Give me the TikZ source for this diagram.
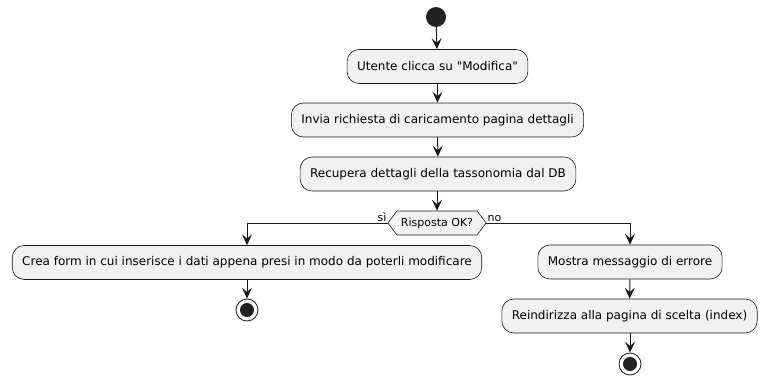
\documentclass[tikz,border=0pt]{standalone}
\usepackage{fontspec}
\setmainfont{DejaVu Sans}[Ligatures=TeXOff]
\usetikzlibrary{arrows.meta,shapes.symbols}
\definecolor{ink}{HTML}{181818}
\definecolor{boxfill}{HTML}{F1F1F1}
\definecolor{dot}{HTML}{222222}
\begin{document}
\begin{tikzpicture}[x=1pt,y=-1pt,
  action/.style={draw=ink, fill=boxfill, line width=0.6pt, rounded corners=12pt,
    minimum height=34pt, inner xsep=10pt, font=\fontsize{12}{14}\selectfont},
  choice/.style={draw=ink, fill=boxfill, line width=0.6pt, shape=signal,
    signal to=east and west, signal pointer angle=106, minimum height=24pt,
    inner xsep=4pt, inner ysep=0pt, font=\fontsize{11}{13}\selectfont},
  startdot/.style={circle, fill=dot, minimum size=20pt, inner sep=0pt},
  enddot/.style={circle, draw=ink, fill=white, line width=0.8pt, minimum size=22pt, inner sep=0pt,
    path picture={\fill[dot] (path picture bounding box.center) circle (7pt);}},
  flow/.style={draw=ink, line width=1pt, -{Stealth[length=11pt,width=10pt,inset=4.5pt]}},
  branch/.style={font=\fontsize{11}{13}\selectfont, inner sep=1pt}
]
\useasboundingbox (0,0) rectangle (767,385);

\node[startdot] (start) at (436,17) {};
\node[action] (b1) at (437.5,66.5) {Utente clicca su "Modifica"};
\node[action] (b2) at (437.5,120) {Invia richiesta di caricamento pagina dettagli};
\node[action] (b3) at (438,174) {Recupera dettagli della tassonomia dal DB};
\node[choice] (dec) at (437,223) {Risposta OK?};
\node[action] (b4) at (247,262.5) {Crea form in cui inserisce i dati appena presi in modo da poterli modificare};
\node[enddot] (endl) at (247,310) {};
\node[action] (b5) at (630,262) {Mostra messaggio di errore};
\node[action] (b6) at (629.5,316) {Reindirizza alla pagina di scelta (index)};
\node[enddot] (endr) at (630,364) {};

\draw[flow] (start) -- (b1);
\draw[flow] (b1) -- (b2);
\draw[flow] (b2) -- (b3);
\draw[flow] (b3.south -| dec.north) -- (dec.north);
\draw[flow] (dec.west) -| (b4.north);
\draw[flow] (dec.east) -| (b5.north);
\draw[flow] (b4.south) -- (endl);
\draw[flow] (b5) -- (b6);
\draw[flow] (b6.south -| endr.north) -- (endr);

\node[branch, anchor=south east] (yes) at (dec.west) {sì};
\node[branch, anchor=south west] (no) at (dec.east) {no};
\end{tikzpicture}
\end{document}
